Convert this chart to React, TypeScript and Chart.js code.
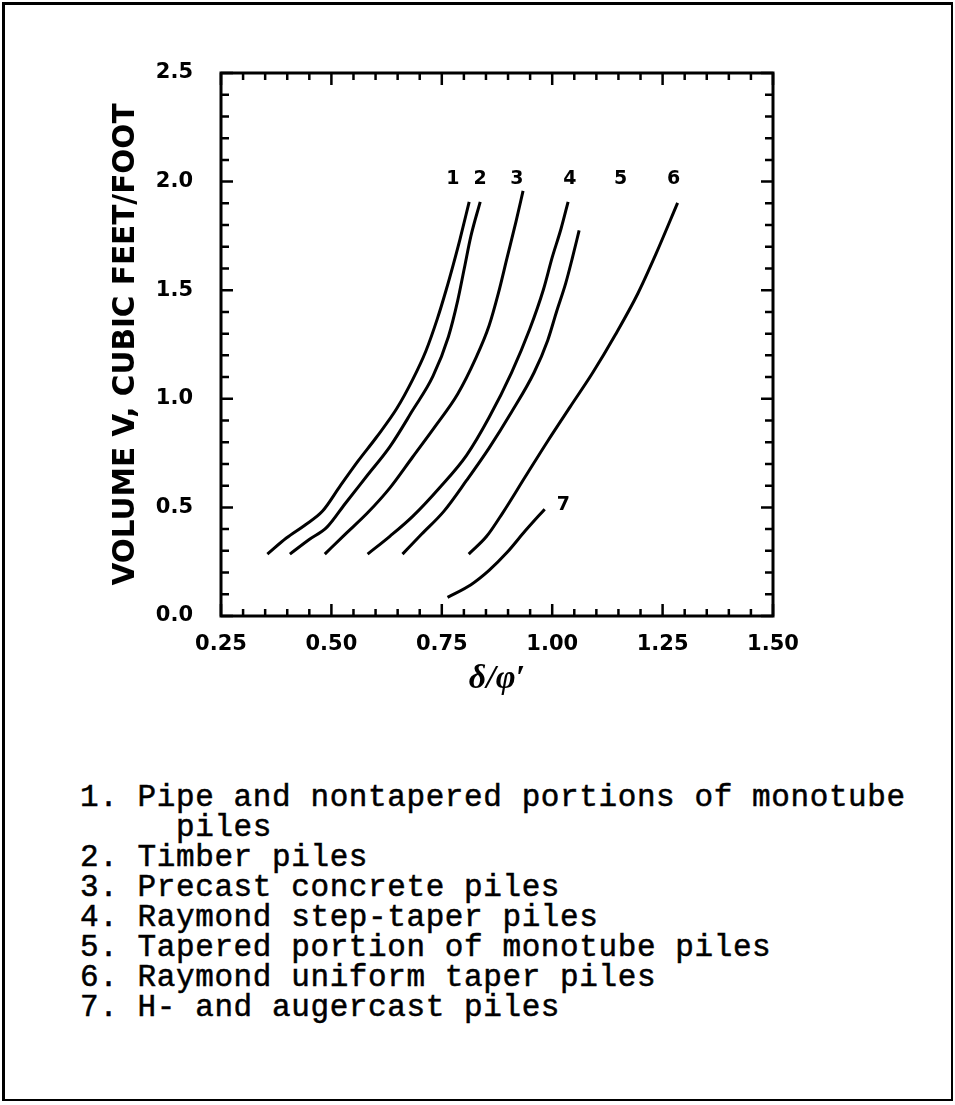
import React, { useEffect, useRef } from 'react';
import { Chart, registerables } from 'chart.js';

Chart.register(...registerables);

// ---- data ----
const X_TICKS = [0.25, 0.5, 0.75, 1.0, 1.25, 1.5];
const Y_TICKS = [0, 0.5, 1.0, 1.5, 2.0, 2.5];

const CURVE_1_X = [0.355, 0.398, 0.439, 0.48, 0.52, 0.561, 0.602, 0.648, 0.684, 0.714, 0.74, 0.76, 0.776, 0.791, 0.812];
const CURVE_1_Y = [0.285, 0.359, 0.417, 0.483, 0.599, 0.715, 0.823, 0.955, 1.088, 1.22, 1.369, 1.502, 1.618, 1.733, 1.907];

const CURVE_2_X = [0.406, 0.449, 0.49, 0.531, 0.582, 0.633, 0.684, 0.73, 0.765, 0.786, 0.801, 0.816, 0.837];
const CURVE_2_Y = [0.285, 0.351, 0.409, 0.517, 0.649, 0.781, 0.947, 1.104, 1.286, 1.452, 1.601, 1.75, 1.907];

const CURVE_3_X = [0.485, 0.531, 0.582, 0.633, 0.684, 0.735, 0.786, 0.827, 0.857, 0.878, 0.898, 0.918, 0.934];
const CURVE_3_Y = [0.285, 0.376, 0.475, 0.591, 0.732, 0.873, 1.022, 1.187, 1.336, 1.485, 1.651, 1.816, 1.957];

const CURVE_4_X = [0.582, 0.633, 0.684, 0.745, 0.806, 0.857, 0.908, 0.949, 0.98, 1.0, 1.02, 1.036];
const CURVE_4_Y = [0.285, 0.368, 0.459, 0.591, 0.74, 0.914, 1.121, 1.32, 1.502, 1.651, 1.783, 1.907];

const CURVE_5_X = [0.661, 0.704, 0.755, 0.806, 0.857, 0.908, 0.959, 0.99, 1.01, 1.031, 1.046, 1.061];
const CURVE_5_Y = [0.285, 0.376, 0.483, 0.624, 0.773, 0.939, 1.121, 1.27, 1.402, 1.535, 1.651, 1.775];

const CURVE_6_X = [0.811, 0.852, 0.888, 0.939, 0.99, 1.041, 1.092, 1.143, 1.194, 1.235, 1.284];
const CURVE_6_Y = [0.285, 0.368, 0.475, 0.641, 0.806, 0.964, 1.121, 1.295, 1.485, 1.667, 1.902];

const CURVE_7_X = [0.763, 0.816, 0.857, 0.898, 0.939, 0.983];
const CURVE_7_Y = [0.086, 0.144, 0.21, 0.293, 0.392, 0.492];

const CURVES_X = [CURVE_1_X, CURVE_2_X, CURVE_3_X, CURVE_4_X, CURVE_5_X, CURVE_6_X, CURVE_7_X];
const CURVES_Y = [CURVE_1_Y, CURVE_2_Y, CURVE_3_Y, CURVE_4_Y, CURVE_5_Y, CURVE_6_Y, CURVE_7_Y];

const CURVE_NAMES = ['1', '2', '3', '4', '5', '6', '7'];
const CURVE_LABEL_X = [0.775, 0.837, 0.92, 1.04, 1.155, 1.275, 1.025];
const CURVE_LABEL_Y = [2.01, 2.01, 2.01, 2.01, 2.01, 2.01, 0.51];

const X_TITLE = 'δ/φ′';
const Y_TITLE = 'VOLUME V, CUBIC FEET/FOOT';

const LEGEND_LINES = [
  '1. Pipe and nontapered portions of monotube',
  '     piles',
  '2. Timber piles',
  '3. Precast concrete piles',
  '4. Raymond step-taper piles',
  '5. Tapered portion of monotube piles',
  '6. Raymond uniform taper piles',
  '7. H- and augercast piles',
];

// ---- layout ----
const CANVAS_W = 955;
const CANVAS_H = 720;
const PLOT_LEFT = 221;
const PLOT_RIGHT = 773;
const PLOT_TOP = 73;
const PLOT_BOTTOM = 616;

const framePlugin = {
  id: 'frameTicks',
  afterDatasetsDraw(chart: any) {
    const { ctx, chartArea: a, scales } = chart;
    const xs = scales.x;
    const ys = scales.y;
    ctx.save();
    ctx.strokeStyle = '#000';
    ctx.lineCap = 'butt';
    ctx.lineWidth = 2.5;
    for (let i = 0; i <= 25; i++) {
      const v = 0.25 + i * 0.05;
      const px = xs.getPixelForValue(v);
      const len = i % 5 === 0 ? 12 : 7;
      ctx.beginPath();
      ctx.moveTo(px, a.bottom);
      ctx.lineTo(px, a.bottom - len);
      ctx.moveTo(px, a.top);
      ctx.lineTo(px, a.top + len);
      ctx.stroke();
    }
    for (let i = 0; i <= 25; i++) {
      const v = i * 0.1;
      const py = ys.getPixelForValue(v);
      const len = i % 5 === 0 ? 12 : 8;
      ctx.beginPath();
      ctx.moveTo(a.left, py);
      ctx.lineTo(a.left + len, py);
      ctx.moveTo(a.right, py);
      ctx.lineTo(a.right - len, py);
      ctx.stroke();
    }
    ctx.lineWidth = 3;
    ctx.strokeRect(a.left, a.top, a.right - a.left, a.bottom - a.top);

    ctx.fillStyle = '#000';
    ctx.font = 'bold 19px "DejaVu Sans"';
    ctx.textAlign = 'center';
    ctx.textBaseline = 'middle';
    CURVE_NAMES.forEach((n, i) => {
      ctx.fillText(n, xs.getPixelForValue(CURVE_LABEL_X[i]), ys.getPixelForValue(CURVE_LABEL_Y[i]));
    });
    ctx.restore();
  },
};

function VolumeChart() {
  const ref = useRef<HTMLCanvasElement | null>(null);
  useEffect(() => {
    const canvas = ref.current;
    if (!canvas) return;
    const datasets = CURVES_X.map((xsArr, ci) => ({
      label: CURVE_NAMES[ci],
      data: xsArr.map((x, i) => ({ x, y: CURVES_Y[ci][i] })),
      borderColor: '#000',
      borderWidth: 3,
      pointRadius: 0,
      fill: false,
      cubicInterpolationMode: 'monotone' as const,
    }));
    const tickFont = { family: '"DejaVu Sans"', weight: 'bold' as const, size: 21 };
    const chart = new Chart(canvas, {
      type: 'line',
      data: { datasets },
      options: {
        animation: false,
        responsive: false,
        devicePixelRatio: 1,
        layout: { padding: { left: 0, top: PLOT_TOP, right: CANVAS_W - PLOT_RIGHT, bottom: 0 } },
        plugins: { legend: { display: false }, tooltip: { enabled: false } },
        scales: {
          x: {
            type: 'linear',
            min: 0.25,
            max: 1.5,
            grid: { display: false },
            border: { display: false },
            afterBuildTicks: (s: any) => {
              s.ticks = X_TICKS.map((v) => ({ value: v }));
            },
            ticks: {
              color: '#000',
              font: tickFont,
              padding: 8,
              maxRotation: 0,
              autoSkip: false,
              callback: (v: any) => Number(v).toFixed(2),
            },
            title: {
              display: true,
              text: X_TITLE,
              color: '#000',
              font: { family: '"Liberation Serif"', style: 'italic', weight: 'bold', size: 34, lineHeight: 1.2 },
              padding: { top: 0, bottom: 20 },
            },
            afterFit: (s: any) => {
              s.height = CANVAS_H - PLOT_BOTTOM;
              s.paddingLeft = 0;
              s.paddingRight = 0;
            },
          },
          y: {
            type: 'linear',
            min: 0,
            max: 2.5,
            grid: { display: false },
            border: { display: false },
            afterBuildTicks: (s: any) => {
              s.ticks = Y_TICKS.map((v) => ({ value: v }));
            },
            ticks: {
              color: '#000',
              font: tickFont,
              padding: 20,
              autoSkip: false,
              callback: (v: any) => Number(v).toFixed(1),
            },
            title: {
              display: true,
              text: Y_TITLE,
              color: '#000',
              font: { family: '"DejaVu Sans"', weight: 'bold', size: 29.5, lineHeight: 1.2 },
              padding: { top: 109, bottom: 0 },
            },
            afterFit: (s: any) => {
              s.width = PLOT_LEFT;
              s.paddingTop = 0;
              s.paddingBottom = 0;
            },
          },
        },
      },
      plugins: [framePlugin],
    });
    return () => chart.destroy();
  }, []);
  return (
    <canvas
      ref={ref}
      width={CANVAS_W}
      height={CANVAS_H}
      style={{ position: 'absolute', left: 0, top: 0, width: CANVAS_W, height: CANVAS_H }}
    />
  );
}

export default function App() {
  return (
    <div style={{ position: 'absolute', left: 0, top: 0, width: 955, height: 1105, background: '#fff', overflow: 'hidden' }}>
      <div
        style={{
          position: 'absolute',
          left: 2,
          top: 2,
          width: 951,
          height: 1099,
          boxSizing: 'border-box',
          borderStyle: 'solid',
          borderColor: '#000',
          borderWidth: '3px 2px 2px 3px',
        }}
      />
      <VolumeChart />
      <div
        style={{
          position: 'absolute',
          left: 80,
          top: 783,
          fontFamily: '"Liberation Mono", monospace',
          fontSize: 31,
          lineHeight: '30px',
          letterSpacing: '0.6px',
          color: '#000',
          whiteSpace: 'pre',
          WebkitTextStroke: '0.5px #000',
        }}
      >
        {LEGEND_LINES.map((l, i) => (
          <div key={i}>{l}</div>
        ))}
      </div>
    </div>
  );
}
